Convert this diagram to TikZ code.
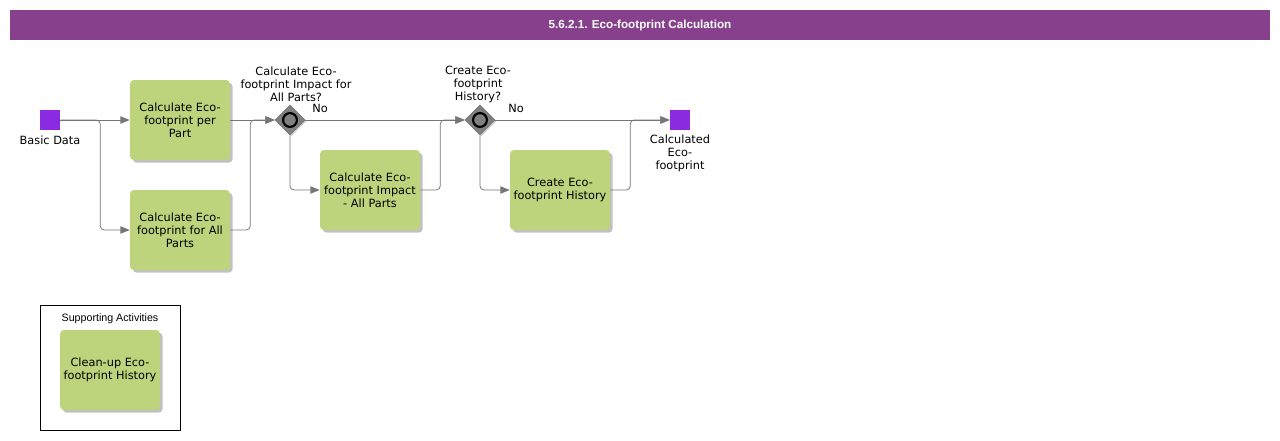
\documentclass[tikz,border=0pt]{standalone}
\usepackage{fontspec}
\setmainfont{DejaVu Sans}
\newfontfamily\arialfont{Liberation Sans}
\usepackage{tikz}
\usetikzlibrary{arrows.meta,shapes,positioning,shadows}
\definecolor{Title}{HTML}{86408C}
\definecolor{Task}{HTML}{BDD37C}
\definecolor{Event}{HTML}{8A2BE2}
\definecolor{Gate}{HTML}{808080}
\definecolor{Flow}{HTML}{777777}
\tikzset{
every node/.style={font=\fontsize{8.5}{9.75}\selectfont},
taskbox/.style= {rectangle, rounded corners=3pt, fill=Task, align=center, inner sep=2pt,
    minimum width=75pt, minimum height=60pt,
    drop shadow={shadow xshift=2pt, shadow yshift=-2pt, fill=black!30, opacity=0.8}},
eventbox/.style= {rectangle, fill=Event, minimum size=15pt, inner sep=0pt},
gateway/.style= {diamond, fill=Gate, draw=black!55, minimum size=22.5pt, inner sep=0pt,
    drop shadow={shadow xshift=1pt, shadow yshift=-1pt, fill=black!30, opacity=0.6},
    path picture={\draw[line width=1.6pt, draw=black, fill=Gate] (path picture bounding box.center) circle (5.2pt);}},
lbl/.style= {align=center, inner sep=1pt},
flow/.style= {draw=Flow, line width=0.6pt, rounded corners=3pt, -{Triangle[length=7pt,width=5.5pt,fill=Flow]}}
}

\begin{document}
\begin{tikzpicture}[x=0.75pt, y=-0.75pt]
    \useasboundingbox (0,0) rectangle (1280,440);

    \node (title) [fill=Title, minimum width=945pt, minimum height=22.5pt, inner sep=0pt, text=white,
        font=\arialfont\bfseries\fontsize{8.75}{10}\selectfont] at (640,25) {5.6.2.1. Eco-footprint Calculation};

    \node (start) [eventbox] at (50,120) {};
    \node (startlbl) [lbl] at (50,140) {Basic Data};

    \node (t1) [taskbox] at (180,120) {Calculate Eco-\\footprint per\\Part};
    \node (t2) [taskbox] at (180,230) {Calculate Eco-\\footprint for All\\Parts};

    \node (gw1) [gateway] at (290,120) {};
    \node (gw1lbl) [lbl] at (296,84) {Calculate Eco-\\footprint Impact for\\All Parts?};
    \node (no1) [lbl] at (320,108) {No};

    \node (t3) [taskbox] at (370,190) {Calculate Eco-\\footprint Impact\\- All Parts};

    \node (gw2) [gateway] at (480,120) {};
    \node (gw2lbl) [lbl] at (478,84) {Create Eco-\\footprint\\History?};
    \node (no2) [lbl] at (516,108) {No};

    \node (t4) [taskbox] at (560,190) {Create Eco-\\footprint History};

    \node (end) [eventbox] at (680,120) {};
    \node (endlbl) [lbl] at (680,153) {Calculated\\Eco-\\footprint};

    \draw[flow] (start) -- (t1);
    \draw[flow] (start.east) -- ++(40,0) |- (t2.west);
    \draw[flow] (t1) -- (gw1);
    \draw[flow] (t2.east) -- ++(20,0) |- (gw1.west);
    \draw[flow] (gw1) -- (gw2);
    \draw[flow] (gw1.south) |- (t3.west);
    \draw[flow] (t3.east) -- ++(20,0) |- (gw2.west);
    \draw[flow] (gw2) -- (end);
    \draw[flow] (gw2.south) |- (t4.west);
    \draw[flow] (t4.east) -- ++(20,0) |- (end.west);

    % supporting activities
    \node (supp) [draw=black, minimum width=105pt, minimum height=93.75pt, inner sep=0pt] at (110,367.5) {};
    \node (supplbl) [lbl, font=\arialfont\fontsize{8}{9.5}\selectfont] at (110,319) {Supporting Activities};
    \node (t5) [taskbox] at (110,370) {Clean-up Eco-\\footprint History};
\end{tikzpicture}
\end{document}
